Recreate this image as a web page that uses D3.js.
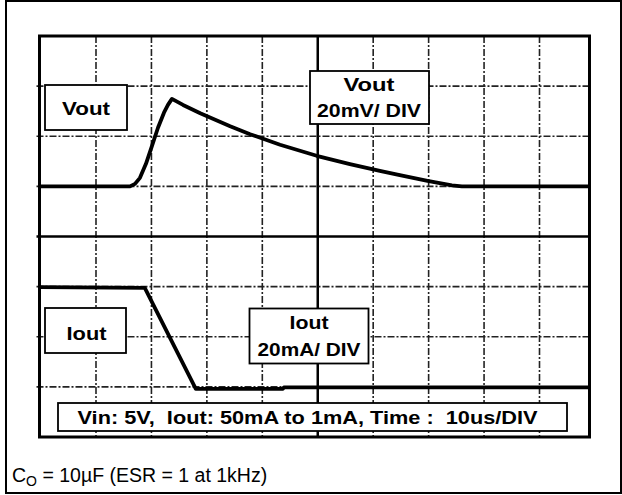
<!DOCTYPE html>
<html>
<head>
<meta charset="utf-8">
<script src="https://cdn.jsdelivr.net/npm/d3@7/dist/d3.min.js"></script>
<style>
html,body{margin:0;padding:0;background:#fff;}
svg{display:block;}
text{font-family:"Liberation Sans",Arial,sans-serif;fill:#000;white-space:pre;}
</style>
</head>
<body>
<svg id="chart" width="622" height="495"></svg>
<script>
// ---- data (time in µs, 10 µs/div; Vout in mV above baseline, 20 mV/div; Iout in mA above final level, 20 mA/div)
const timeTicks = [10, 20, 30, 40, 50, 60, 70, 80, 90];
const divTicks = [1, 2, 3, 4, 5, 6, 7];
const voutTime = [0, 16.13, 17.03, 17.93, 19.01, 20.10, 21.18, 22.26, 22.98, 23.70, 25.7, 28.8, 34.2, 37.8, 43.2, 49.8, 55.8, 61.2, 64.8, 69.8, 74.2, 76.0, 99];
const voutValues = [0, 0, 1.0, 3.4, 9.0, 16.2, 23.4, 29.4, 32.5, 34.9, 32.5, 29.2, 24.0, 20.8, 16.6, 12.2, 8.9, 6.2, 4.5, 2.2, 0.4, 0, 0];
const ioutTime = [0, 18.8, 28.0, 43.7, 43.9, 99];
const ioutValues = [39.8, 39.5, -0.8, -0.8, -0.2, -0.2];
const voutLabel = ["Vout"];
const voutScaleLabel = ["Vout", "20mV/ DIV"];
const ioutLabel = ["Iout"];
const ioutScaleLabel = ["Iout", "20mA/ DIV"];
const conditionLabel = "Vin: 5V,  Iout: 50mA to 1mA, Time :  10us/DIV";
const captionMain = "C";
const captionSub = "O";
const captionRest = " = 10µF (ESR = 1 at 1kHz)";

const svg = d3.select("#chart");

// outer frame
svg.append("rect").attr("x", 6).attr("y", 1).attr("width", 615).attr("height", 492)
  .attr("fill", "none").attr("stroke", "#000").attr("stroke-width", 2);

// scales
const x = d3.scaleLinear().domain([10, 90]).range([96, 539.5]);
const yDiv = d3.scaleLinear().domain([0, 8]).range([437, 36]);
const yV = d3.scaleLinear().domain([0, 20]).range([yDiv(5), yDiv(6)]);
const yI = d3.scaleLinear().domain([0, 20]).range([yDiv(1), yDiv(2)]);

const plotL = 39.5, plotR = 589.5, plotT = 36, plotB = 437;

// grid
const grid = svg.append("g");
grid.selectAll("line.v").data(timeTicks).enter().append("line")
  .attr("x1", d => x(d)).attr("x2", d => x(d))
  .attr("y1", plotT).attr("y2", plotB)
  .attr("stroke", d => d === 50 ? "#000" : "#222")
  .attr("stroke-width", d => d === 50 ? 2.5 : 1.6)
  .attr("stroke-dasharray", d => d === 50 ? null : "7,2,2,2");
grid.selectAll("line.h").data(divTicks).enter().append("line")
  .attr("x1", plotL - 3).attr("x2", plotR)
  .attr("y1", d => yDiv(d)).attr("y2", d => yDiv(d))
  .attr("stroke", d => d === 4 ? "#000" : "#222")
  .attr("stroke-width", d => d === 4 ? 2.5 : 1.6)
  .attr("stroke-dasharray", d => d === 4 ? null : "7,2,2,2");

// plot frame
svg.append("rect").attr("x", plotL).attr("y", plotT).attr("width", plotR - plotL).attr("height", plotB - plotT)
  .attr("fill", "none").attr("stroke", "#000").attr("stroke-width", 3);

// traces
const vLine = d3.line().x((d, i) => x(voutTime[i])).y(d => yV(d));
svg.append("path").attr("d", vLine(voutValues))
  .attr("fill", "none").attr("stroke", "#000").attr("stroke-width", 3.8).attr("stroke-linejoin", "round");
const iLine = d3.line().x((d, i) => x(ioutTime[i])).y(d => yI(d));
svg.append("path").attr("d", iLine(ioutValues))
  .attr("fill", "none").attr("stroke", "#000").attr("stroke-width", 3.8).attr("stroke-linejoin", "round");

// label boxes
function box(x0, y0, w, h, lines, baselines, lengths, cx) {
  const g = svg.append("g");
  g.append("rect").attr("x", x0).attr("y", y0).attr("width", w).attr("height", h)
    .attr("fill", "#fff").attr("stroke", "#000").attr("stroke-width", 1.8);
  lines.forEach((t, i) => {
    g.append("text").attr("x", cx).attr("y", baselines[i]).attr("text-anchor", "middle")
      .attr("font-size", 18).attr("font-weight", "bold")
      .attr("textLength", lengths[i]).attr("lengthAdjust", "spacingAndGlyphs")
      .text(t);
  });
}
box(45, 85, 82, 45, voutLabel, [115], [48], 86);
box(310, 71, 119, 53, voutScaleLabel, [90.5, 117.3], [51, 104], 369);
box(45, 308, 81, 45, ioutLabel, [339.5], [40], 86.5);
box(249.5, 308.5, 119, 55, ioutScaleLabel, [329, 356], [39, 103], 309);
box(58, 403, 509, 28, [conditionLabel], [423.5], [460], 307.5);

// caption
const cap = svg.append("text").attr("x", 12).attr("y", 482).attr("font-size", 19.5);
cap.append("tspan").text(captionMain);
cap.append("tspan").attr("font-size", 14).attr("dy", 4).text(captionSub);
cap.append("tspan").attr("dy", -4).text(captionRest);
</script>
</body>
</html>
